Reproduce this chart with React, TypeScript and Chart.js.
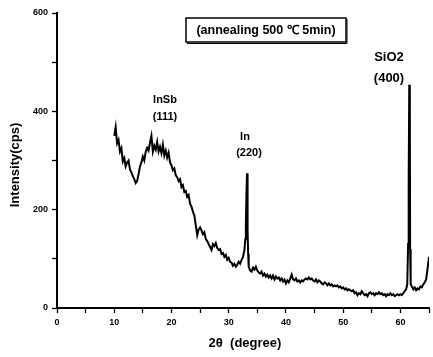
import React, { useEffect, useRef } from "react";
import { Chart, registerables } from "chart.js";

Chart.register(...registerables);

const twoTheta: number[] = [
  10.0, 10.25, 10.5, 10.75, 11.0, 11.25, 11.5, 11.75, 12.0, 12.25, 12.5, 12.75, 13.0, 13.25, 13.5, 13.75,
  14.0, 14.25, 14.5, 14.75, 15.0, 15.25, 15.5, 15.75, 16.0, 16.25, 16.5, 16.75, 17.0, 17.25, 17.5, 17.75,
  18.0, 18.25, 18.5, 18.75, 19.0, 19.25, 19.5, 19.75, 20.0, 20.25, 20.5, 20.75, 21.0, 21.25, 21.5, 21.75,
  22.0, 22.25, 22.5, 22.75, 23.0, 23.25, 23.5, 23.75, 24.0, 24.25, 24.5, 24.75, 25.0, 25.25, 25.5, 25.75,
  26.0, 26.25, 26.5, 26.75, 27.0, 27.25, 27.5, 27.75, 28.0, 28.25, 28.5, 28.75, 29.0, 29.25, 29.5, 29.75,
  30.0, 30.25, 30.5, 30.75, 31.0, 31.25, 31.5, 31.75, 32.0, 32.25, 32.5, 32.75, 32.9, 33.0, 33.1, 33.2,
  33.3, 33.4, 33.5, 33.75, 34.0, 34.25, 34.5, 34.75, 35.0, 35.25, 35.5, 35.75, 36.0, 36.25, 36.5, 36.75,
  37.0, 37.25, 37.5, 37.75, 38.0, 38.25, 38.5, 38.75, 39.0, 39.25, 39.5, 39.75, 40.0, 40.25, 40.5, 40.75,
  41.0, 41.25, 41.5, 41.75, 42.0, 42.25, 42.5, 42.75, 43.0, 43.25, 43.5, 43.75, 44.0, 44.25, 44.5, 44.75,
  45.0, 45.25, 45.5, 45.75, 46.0, 46.25, 46.5, 46.75, 47.0, 47.25, 47.5, 47.75, 48.0, 48.25, 48.5, 48.75,
  49.0, 49.25, 49.5, 49.75, 50.0, 50.25, 50.5, 50.75, 51.0, 51.25, 51.5, 51.75, 52.0, 52.25, 52.5, 52.75,
  53.0, 53.25, 53.5, 53.75, 54.0, 54.25, 54.5, 54.75, 55.0, 55.25, 55.5, 55.75, 56.0, 56.25, 56.5, 56.75,
  57.0, 57.25, 57.5, 57.75, 58.0, 58.25, 58.5, 58.75, 59.0, 59.25, 59.5, 59.75, 60.0, 60.25, 60.5, 60.75,
  61.0, 61.2, 61.35, 61.45, 61.55, 61.65, 61.7, 61.8, 62.0, 62.25, 62.5, 62.75, 63.0, 63.25, 63.5, 63.75,
  64.0, 64.25, 64.5, 64.75, 65.0,
];

const intensity: number[] = [
  350, 368, 335, 342, 318, 325, 298, 305, 288, 296, 300, 282, 276, 268, 262, 254,
  258, 272, 288, 296, 308, 300, 318, 326, 320, 336, 350, 318, 330, 322, 338, 318,
  328, 315, 332, 310, 320, 306, 316, 296, 290, 280, 284, 270, 266, 258, 262, 246,
  250, 236, 238, 226, 230, 212, 206, 196, 188, 168, 148, 160, 164, 158, 150, 154,
  140, 136, 130, 124, 118, 130, 126, 132, 122, 118, 120, 110, 112, 104, 108, 98,
  102, 94, 92, 86, 90, 84, 88, 94, 90, 98, 104, 118, 140, 170, 230, 274,
  160, 110, 84, 76, 74, 82, 78, 84, 76, 72, 70, 74, 66, 70, 64, 68,
  62, 66, 60, 66, 58, 64, 60, 62, 56, 60, 54, 58, 50, 56, 52, 60,
  68, 58, 56, 60, 54, 56, 52, 56, 54, 58, 60, 58, 62, 58, 60, 56,
  54, 58, 52, 56, 54, 50, 48, 52, 50, 46, 50, 46, 48, 44, 46, 44,
  46, 42, 44, 40, 42, 38, 40, 36, 38, 36, 34, 36, 30, 32, 26, 30,
  28, 34, 30, 26, 28, 24, 30, 32, 28, 30, 26, 30, 28, 32, 28, 30,
  26, 28, 24, 28, 26, 30, 26, 28, 24, 26, 28, 26, 28, 26, 30, 34,
  38, 48, 130, 260, 454, 420, 120, 48, 44, 38, 42, 36, 40, 38, 44, 42,
  48, 52, 58, 80, 104,
];

const yTickLabels: number[] = [0, 200, 400, 600];
const xTickLabels: number[] = [0, 10, 20, 30, 40, 50, 60];

const titleText = "(annealing 500 \u2103 5min)";
const peakLabels: { lines: string[]; size: number }[] = [
  { lines: ["InSb", "(111)"], size: 11 },
  { lines: ["In", "(220)"], size: 11 },
  { lines: ["SiO2", "(400)"], size: 13 },
];
const yTitle = "Intensity(cps)";
const xTitle = "2\u03b8  (degree)";

const FONT = "'Liberation Sans', Arial, sans-serif";

export default function App() {
  const ref = useRef<HTMLCanvasElement | null>(null);

  useEffect(() => {
    document.body.style.margin = "0";
    const canvas = ref.current;
    if (!canvas) return;

    const textPlugin = {
      id: "texts",
      afterDraw(chart: any) {
        const ctx = chart.ctx as CanvasRenderingContext2D;
        ctx.save();
        ctx.fillStyle = "#000";
        ctx.strokeStyle = "#000";
        // title box
        ctx.lineWidth = 1.5;
        ctx.strokeRect(186, 18, 160, 24);
        ctx.lineWidth = 1;
        ctx.beginPath();
        ctx.moveTo(187, 43.5);
        ctx.lineTo(347, 43.5);
        ctx.lineTo(347, 19);
        ctx.stroke();
        ctx.font = `bold 12.5px ${FONT}`;
        ctx.textAlign = "center";
        ctx.textBaseline = "middle";
        ctx.fillText(titleText, 266, 31);

        // peak labels
        const pos = [
          [[165, 100], [165, 117]],
          [[245, 137], [249, 153]],
          [[389, 57], [389, 78]],
        ];
        peakLabels.forEach((p, i) => {
          ctx.font = `bold ${p.size}px ${FONT}`;
          p.lines.forEach((line, j) => {
            ctx.fillText(line, pos[i][j][0], pos[i][j][1]);
          });
        });

        // axis titles
        ctx.font = `bold 13px ${FONT}`;
        ctx.fillText(xTitle, 245, 343);
        ctx.save();
        ctx.translate(15, 165);
        ctx.rotate(-Math.PI / 2);
        ctx.fillText(yTitle, 0, 0);
        ctx.restore();
        ctx.restore();
      },
    };

    const chart = new Chart(canvas, {
      type: "line",
      data: {
        datasets: [
          {
            data: twoTheta.map((x, i) => ({ x, y: intensity[i] })),
            borderColor: "#000",
            borderWidth: 2,
            pointRadius: 0,
            tension: 0,
            fill: false,
          },
        ],
      },
      options: {
        responsive: false,
        animation: false,
        layout: { padding: { top: 13, right: 1, left: 0, bottom: 0 } },
        plugins: {
          legend: { display: false },
          tooltip: { enabled: false },
          title: { display: false },
        },
        scales: {
          x: {
            type: "linear",
            min: 0,
            max: 65,
            afterFit: (s: any) => {
              s.height = 49;
            },
            ticks: {
              stepSize: 5,
              autoSkip: false,
              maxRotation: 0,
              color: "#000",
              font: { family: FONT, size: 9, weight: "bold" },
              padding: 4,
              callback: (v: any) => (xTickLabels.includes(Number(v)) ? String(v) : ""),
            },
            grid: {
              drawOnChartArea: false,
              drawTicks: true,
              tickLength: 5,
              color: "#000",
              tickWidth: 1.3,
            },
            border: { color: "#000", width: 2 },
          },
          y: {
            type: "linear",
            min: 0,
            max: 600,
            afterFit: (s: any) => {
              s.width = 57;
            },
            ticks: {
              stepSize: 100,
              autoSkip: false,
              color: "#000",
              font: { family: FONT, size: 9, weight: "bold" },
              padding: 4,
              callback: (v: any) => (yTickLabels.includes(Number(v)) ? String(v) : ""),
            },
            grid: {
              drawOnChartArea: false,
              drawTicks: true,
              tickLength: 5,
              color: "#000",
              tickWidth: 1.3,
            },
            border: { color: "#000", width: 2 },
          },
        },
      },
      plugins: [textPlugin],
    } as any);

    return () => chart.destroy();
  }, []);

  return (
    <div style={{ width: 433, height: 357, background: "#fff" }}>
      <canvas ref={ref} width={433} height={357} style={{ display: "block" }} />
    </div>
  );
}
